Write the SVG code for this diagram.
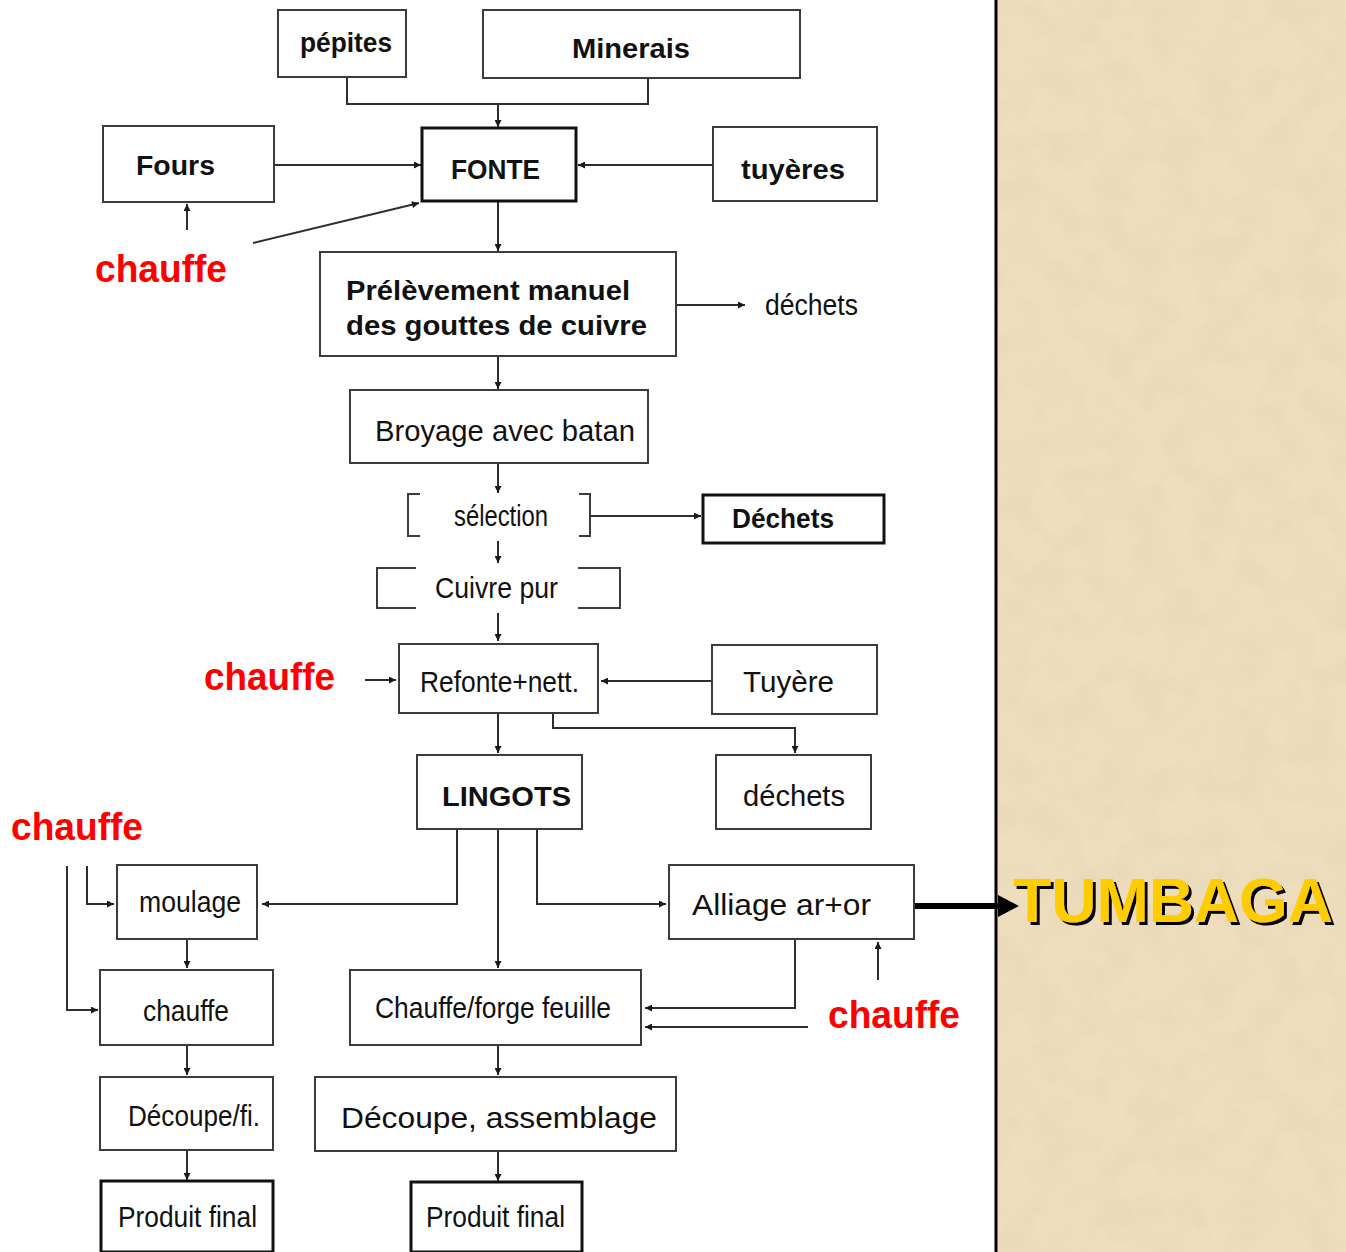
<svg xmlns="http://www.w3.org/2000/svg" width="1346" height="1252" viewBox="0 0 1346 1252">
<style>
.bx{fill:#fff;stroke:#3c3c3c;stroke-width:2}
.bk{fill:#fff;stroke:#111;stroke-width:3}
.br{fill:none;stroke:#3c3c3c;stroke-width:2}
.t{font-family:"Liberation Sans",Arial,sans-serif;font-size:29px;fill:#111}
.b{font-family:"Liberation Sans",Arial,sans-serif;font-size:27px;font-weight:bold;fill:#111}
.r{font-family:"Liberation Sans",Arial,sans-serif;font-size:38px;font-weight:bold;fill:#f00}
.c{fill:none;stroke:#2e2e2e;stroke-width:2}
</style>
<defs>
<marker id="ah" viewBox="0 0 10 10" refX="10" refY="5" markerWidth="9" markerHeight="7" markerUnits="userSpaceOnUse" orient="auto">
<path d="M0,0 L10,5 L0,10 z" fill="#1a1a1a"/>
</marker>
<filter id="tex" x="0" y="0" width="100%" height="100%">
<feTurbulence type="fractalNoise" baseFrequency="0.03" numOctaves="4" seed="7"/>
<feColorMatrix type="matrix" values="0 0 0 0 0.80  0 0 0 0 0.66  0 0 0 0 0.46  1.1 0 0 0 -0.36"/>
</filter>
<filter id="sh" x="-5%" y="-5%" width="115%" height="125%">
<feDropShadow dx="3" dy="3" stdDeviation="0.6" flood-color="#000" flood-opacity="1"/>
</filter>
</defs>
<rect x="0" y="0" width="1346" height="1252" fill="#fff"/>
<g id="panel">
<rect x="997" y="0" width="349" height="1252" fill="#EEDEBD"/>
<rect x="997" y="0" width="349" height="1252" filter="url(#tex)"/>
<line x1="996" y1="0" x2="996" y2="1252" stroke="#000" stroke-width="3"/>
</g>
<g id="connectors">
<polyline class="c" points="347,77 347,104 648,104 648,78"/>
<line class="c" x1="498" y1="104" x2="498" y2="127" marker-end="url(#ah)"/>
<line class="c" x1="274" y1="165" x2="421" y2="165" marker-end="url(#ah)"/>
<line class="c" x1="713" y1="165" x2="578" y2="165" marker-end="url(#ah)"/>
<line class="c" x1="187" y1="230" x2="187" y2="204" marker-end="url(#ah)"/>
<line class="c" x1="253" y1="243" x2="419" y2="203" marker-end="url(#ah)"/>
<line class="c" x1="498" y1="201" x2="498" y2="251" marker-end="url(#ah)"/>
<line class="c" x1="676" y1="305" x2="745" y2="305" marker-end="url(#ah)"/>
<line class="c" x1="498" y1="356" x2="498" y2="389" marker-end="url(#ah)"/>
<line class="c" x1="498" y1="463" x2="498" y2="493" marker-end="url(#ah)"/>
<line class="c" x1="590" y1="516" x2="701" y2="516" marker-end="url(#ah)"/>
<line class="c" x1="498" y1="541" x2="498" y2="563" marker-end="url(#ah)"/>
<line class="c" x1="498" y1="613" x2="498" y2="641" marker-end="url(#ah)"/>
<line class="c" x1="365" y1="680" x2="396" y2="680" marker-end="url(#ah)"/>
<line class="c" x1="712" y1="681" x2="601" y2="681" marker-end="url(#ah)"/>
<line class="c" x1="498" y1="713" x2="498" y2="753" marker-end="url(#ah)"/>
<polyline class="c" points="553,713 553,728 795,728 795,753" marker-end="url(#ah)"/>
<polyline class="c" points="457,829 457,904 262,904" marker-end="url(#ah)"/>
<line class="c" x1="498" y1="829" x2="498" y2="968" marker-end="url(#ah)"/>
<polyline class="c" points="537,829 537,904 666,904" marker-end="url(#ah)"/>
<polyline class="c" points="67,866 67,1010 98,1010" marker-end="url(#ah)"/>
<polyline class="c" points="87,866 87,904 114,904" marker-end="url(#ah)"/>
<line class="c" x1="187" y1="939" x2="187" y2="968" marker-end="url(#ah)"/>
<line class="c" x1="187" y1="1045" x2="187" y2="1075" marker-end="url(#ah)"/>
<line class="c" x1="187" y1="1150" x2="187" y2="1180" marker-end="url(#ah)"/>
<polyline class="c" points="795,939 795,1008 645,1008" marker-end="url(#ah)"/>
<line class="c" x1="878" y1="980" x2="878" y2="942" marker-end="url(#ah)"/>
<line class="c" x1="808" y1="1027" x2="645" y2="1027" marker-end="url(#ah)"/>
<line class="c" x1="498" y1="1045" x2="498" y2="1075" marker-end="url(#ah)"/>
<line class="c" x1="498" y1="1151" x2="498" y2="1181" marker-end="url(#ah)"/>
<line x1="914" y1="906" x2="1002" y2="906" stroke="#000" stroke-width="6"/>
<polygon points="998,895 1019,906 998,917" fill="#000"/>
</g>
<g id="pepites"><rect class="bx" x="278" y="10" width="128" height="67"/><text class="b" x="300" y="52" textLength="92" lengthAdjust="spacingAndGlyphs">pépites</text></g>
<g id="minerais"><rect class="bx" x="483" y="10" width="317" height="68"/><text class="b" x="572" y="58" font-size="29" textLength="118" lengthAdjust="spacingAndGlyphs">Minerais</text></g>
<g id="fours"><rect class="bx" x="103" y="126" width="171" height="76"/><text class="b" x="136" y="175" font-size="29" textLength="79" lengthAdjust="spacingAndGlyphs">Fours</text></g>
<g id="fonte"><rect class="bk" x="422" y="128" width="154" height="73"/><text class="b" x="451" y="179" font-size="26" textLength="89" lengthAdjust="spacingAndGlyphs">FONTE</text></g>
<g id="tuyeres"><rect class="bx" x="713" y="127" width="164" height="74"/><text class="b" x="741" y="179" font-size="29" textLength="104" lengthAdjust="spacingAndGlyphs">tuyères</text></g>
<g id="chauffe1"><text class="r" x="95" y="282" textLength="132" lengthAdjust="spacingAndGlyphs">chauffe</text></g>
<g id="prelevement"><rect class="bx" x="320" y="252" width="356" height="104"/>
<text class="b" x="346" y="300" font-size="28" textLength="284" lengthAdjust="spacingAndGlyphs">Prélèvement manuel</text>
<text class="b" x="346" y="335" font-size="28" textLength="301" lengthAdjust="spacingAndGlyphs">des gouttes de cuivre</text></g>
<g id="dechets1"><text class="t" x="765" y="315" textLength="93" lengthAdjust="spacingAndGlyphs">déchets</text></g>
<g id="broyage"><rect class="bx" x="350" y="390" width="298" height="73"/><text class="t" x="375" y="441" font-size="31" textLength="260" lengthAdjust="spacingAndGlyphs">Broyage avec batan</text></g>
<g id="selection"><path class="br" d="M420,494 H408 V536 H420 M579,494 H590 V536 H579"/><text class="t" x="454" y="526" font-size="26" textLength="94" lengthAdjust="spacingAndGlyphs">sélection</text></g>
<g id="dechets2"><rect class="bk" x="703" y="495" width="181" height="48" stroke-width="2"/><text class="b" x="732" y="528" font-size="26" textLength="102" lengthAdjust="spacingAndGlyphs">Déchets</text></g>
<g id="cuivre"><path class="br" d="M416,568 H377 V608 H416 M578,568 H620 V608 H578"/><text class="t" x="435" y="598" font-size="27" textLength="123" lengthAdjust="spacingAndGlyphs">Cuivre pur</text></g>
<g id="chauffe2"><text class="r" x="204" y="690" textLength="131" lengthAdjust="spacingAndGlyphs">chauffe</text></g>
<g id="refonte"><rect class="bx" x="399" y="644" width="199" height="69"/><text class="t" x="420" y="692" textLength="159" lengthAdjust="spacingAndGlyphs">Refonte+nett.</text></g>
<g id="tuyere"><rect class="bx" x="712" y="645" width="165" height="69"/><text class="t" x="743" y="692" textLength="91" lengthAdjust="spacingAndGlyphs">Tuyère</text></g>
<g id="lingots"><rect class="bx" x="417" y="755" width="165" height="74"/><text class="b" x="442" y="806" font-size="29" textLength="129" lengthAdjust="spacingAndGlyphs">LINGOTS</text></g>
<g id="dechets3"><rect class="bx" x="716" y="755" width="155" height="74"/><text class="t" x="743" y="806" font-size="30" textLength="102" lengthAdjust="spacingAndGlyphs">déchets</text></g>
<g id="chauffe3"><text class="r" x="11" y="840" textLength="132" lengthAdjust="spacingAndGlyphs">chauffe</text></g>
<g id="moulage"><rect class="bx" x="117" y="865" width="140" height="74"/><text class="t" x="139" y="912" textLength="102" lengthAdjust="spacingAndGlyphs">moulage</text></g>
<g id="alliage"><rect class="bx" x="669" y="865" width="245" height="74"/><text class="t" x="692" y="915" font-size="32" textLength="179" lengthAdjust="spacingAndGlyphs">Alliage ar+or</text></g>
<g id="tumbaga"><text x="1013" y="922" font-family="'Liberation Sans',Arial,sans-serif" font-size="63" font-weight="bold" fill="#FFCC00" filter="url(#sh)" textLength="320" lengthAdjust="spacingAndGlyphs">TUMBAGA</text></g>
<g id="chauffe4"><rect class="bx" x="100" y="970" width="173" height="75"/><text class="t" x="143" y="1021" textLength="86" lengthAdjust="spacingAndGlyphs">chauffe</text></g>
<g id="forge"><rect class="bx" x="350" y="970" width="291" height="75"/><text class="t" x="375" y="1018" textLength="236" lengthAdjust="spacingAndGlyphs">Chauffe/forge feuille</text></g>
<g id="chauffe5"><text class="r" x="828" y="1028" textLength="132" lengthAdjust="spacingAndGlyphs">chauffe</text></g>
<g id="decoupefi"><rect class="bx" x="100" y="1077" width="173" height="73"/><text class="t" x="128" y="1126" textLength="132" lengthAdjust="spacingAndGlyphs">Découpe/fi.</text></g>
<g id="decoupeass"><rect class="bx" x="315" y="1077" width="361" height="74"/><text class="t" x="341" y="1128" font-size="35" textLength="316" lengthAdjust="spacingAndGlyphs">Découpe, assemblage</text></g>
<g id="produit1"><rect class="bk" x="101" y="1181" width="172" height="71"/><text class="t" x="118" y="1227" textLength="139" lengthAdjust="spacingAndGlyphs">Produit final</text></g>
<g id="produit2"><rect class="bk" x="411" y="1182" width="171" height="70"/><text class="t" x="426" y="1227" textLength="139" lengthAdjust="spacingAndGlyphs">Produit final</text></g>
</svg>
